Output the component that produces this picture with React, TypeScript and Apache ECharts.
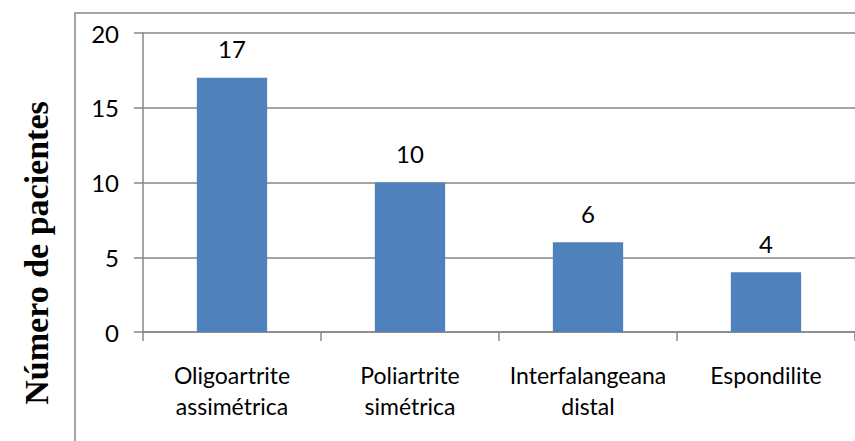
import React, { useEffect, useRef } from "react";
import * as echarts from "echarts";

const categories = [
  "Oligoartrite assimétrica",
  "Poliartrite simétrica",
  "Interfalangeana distal",
  "Espondilite",
];
const patients = [17, 10, 6, 4];
const yTicks = [0, 5, 10, 15, 20];
const yTitle = "Número de pacientes";

const GRAY = "#878787";
const BLUE = "#4F81BD";

export default function App() {
  const ref = useRef<HTMLDivElement>(null);

  useEffect(() => {
    if (!ref.current) return;
    const chart = echarts.init(ref.current, null, { renderer: "svg" });
    chart.setOption({
      animation: false,
      backgroundColor: "#ffffff",
      grid: { left: 143, top: 33, width: 718, height: 299, containLabel: false },
      graphic: [
        {
          type: "rect",
          shape: { x: 75, y: 13, width: 900, height: 600 },
          style: { fill: "none", stroke: GRAY, lineWidth: 1.5 },
          silent: true,
        },
        {
          type: "text",
          x: 36,
          y: 253,
          rotation: Math.PI / 2,
          style: {
            text: yTitle,
            font: "bold 34px 'Liberation Serif', 'Times New Roman', serif",
            fill: "#000",
            align: "center",
            verticalAlign: "middle",
          },
        },
      ],
      xAxis: {
        type: "category",
        data: categories,
        axisLine: { show: true, lineStyle: { color: GRAY, width: 1.5 } },
        axisTick: { show: true, length: 9, alignWithLabel: false, lineStyle: { color: GRAY, width: 1.5 } },
        axisLabel: {
          interval: 0,
          margin: 27,
          color: "#000",
          fontFamily: "Lato",
          fontSize: 23,
          lineHeight: 31,
          formatter: (v: string) => v.replace(" ", "\n"),
        },
      },
      yAxis: {
        type: "value",
        min: yTicks[0],
        max: yTicks[yTicks.length - 1],
        interval: yTicks[1] - yTicks[0],
        axisLine: { show: true, lineStyle: { color: GRAY, width: 1.5 } },
        axisTick: { show: true, length: 9, lineStyle: { color: GRAY, width: 1.5 } },
        splitLine: { show: true, lineStyle: { color: GRAY, width: 1.5 } },
        axisLabel: {
          margin: 24,
          color: "#000",
          fontFamily: "Lato",
          fontSize: 24,
        },
      },
      series: [
        {
          type: "bar",
          data: patients,
          barWidth: "39.5%",
          itemStyle: { color: BLUE },
          label: {
            show: true,
            position: "top",
            distance: 17,
            color: "#000",
            fontFamily: "Lato",
            fontSize: 24,
          },
        },
      ],
    });
    return () => chart.dispose();
  }, []);

  return (
    <div
      ref={ref}
      style={{ position: "fixed", left: 0, top: 0, width: 855, height: 441 }}
    />
  );
}
